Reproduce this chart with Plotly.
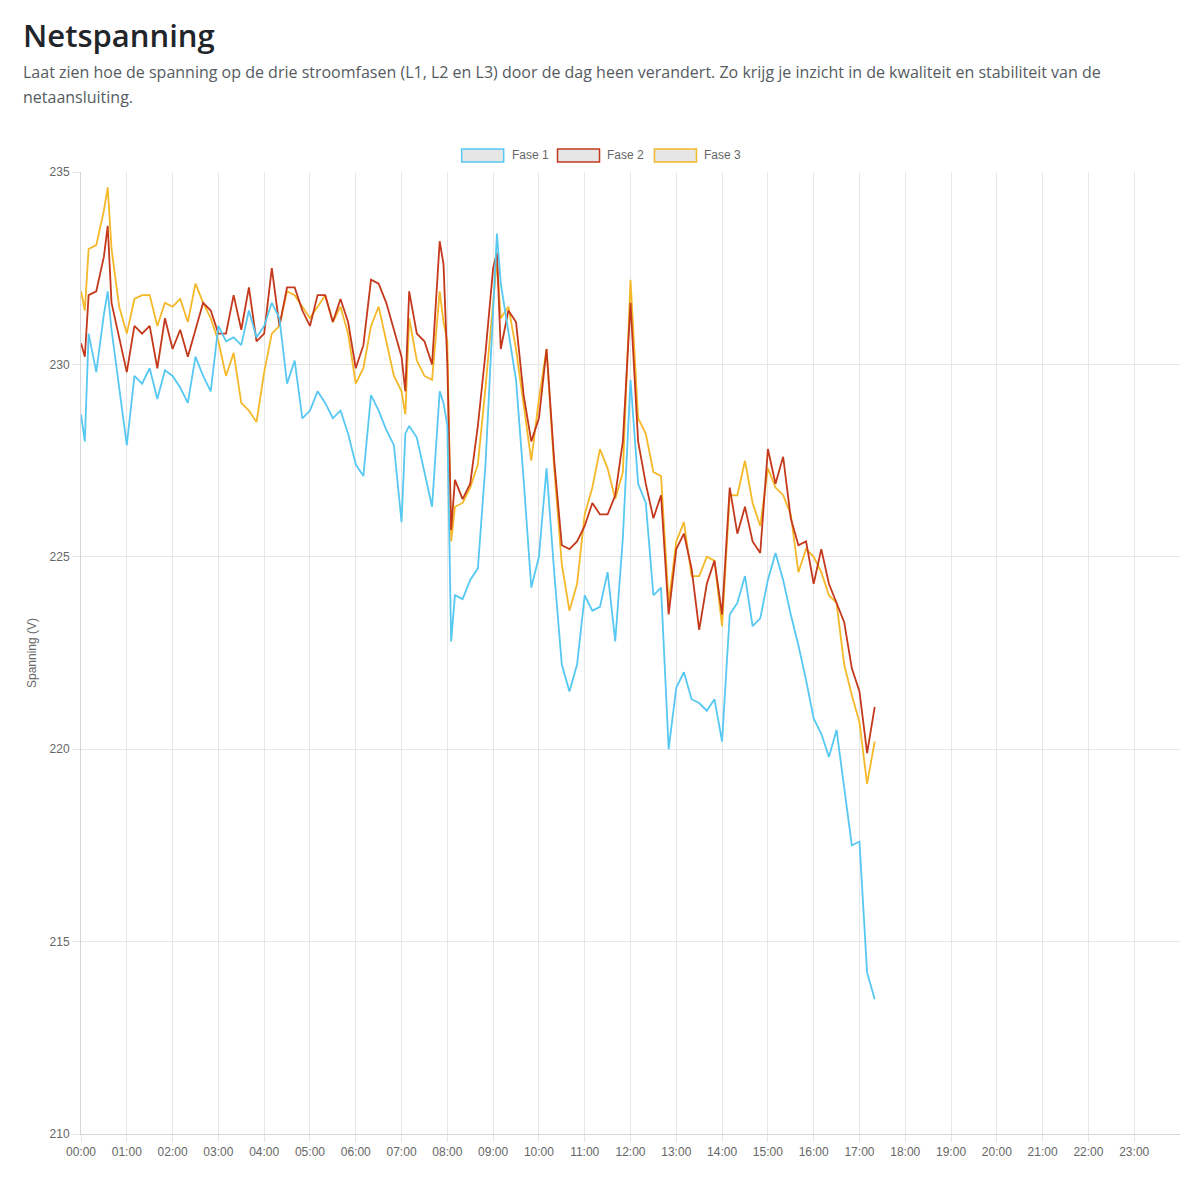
import plotly.graph_objects as go

# Meetmomenten (HH:MM) en spanning per fase in volt
times = [
    "00:00", "00:05", "00:10", "00:20", "00:30", "00:35", "00:40", "00:50",
    "01:00", "01:10", "01:20", "01:30", "01:40", "01:50",
    "02:00", "02:10", "02:20", "02:30", "02:40", "02:50",
    "03:00", "03:10", "03:20", "03:30", "03:40", "03:50",
    "04:00", "04:10", "04:20", "04:30", "04:40", "04:50",
    "05:00", "05:10", "05:20", "05:30", "05:40", "05:50",
    "06:00", "06:10", "06:20", "06:30", "06:40", "06:50",
    "07:00", "07:05", "07:10", "07:20", "07:30", "07:40", "07:50", "07:55",
    "08:00", "08:05", "08:10", "08:20", "08:30", "08:40", "08:50",
    "09:00", "09:05", "09:10", "09:20", "09:30", "09:40", "09:50",
    "10:00", "10:10", "10:20", "10:30", "10:40", "10:50",
    "11:00", "11:10", "11:20", "11:30", "11:40", "11:50",
    "12:00", "12:10", "12:20", "12:30", "12:40", "12:50",
    "13:00", "13:10", "13:20", "13:30", "13:40", "13:50",
    "14:00", "14:10", "14:20", "14:30", "14:40", "14:50",
    "15:00", "15:10", "15:20", "15:30", "15:40", "15:50",
    "16:00", "16:10", "16:20", "16:30", "16:40", "16:50",
    "17:00", "17:10", "17:20",
]

fase1 = [
    228.7, 228.0, 230.8, 229.8, 231.3, 231.9, 230.9, 229.4,
    227.9, 229.7, 229.5, 229.9, 229.1, 229.85,
    229.7, 229.4, 229.0, 230.2, 229.7, 229.3,
    231.0, 230.6, 230.7, 230.5, 231.4, 230.7,
    231.0, 231.6, 231.2, 229.5, 230.1, 228.6,
    228.8, 229.3, 229.0, 228.6, 228.8, 228.2,
    227.4, 227.1, 229.2, 228.8, 228.3, 227.9,
    225.9, 228.2, 228.4, 228.1, 227.2, 226.3, 229.3, 229.0,
    228.4, 222.8, 224.0, 223.9, 224.4, 224.7, 227.4,
    231.5, 233.4, 232.1, 230.8, 229.6, 227.0, 224.2,
    225.0, 227.3, 224.6, 222.2, 221.5, 222.2,
    224.0, 223.6, 223.7, 224.6, 222.8, 225.5,
    229.6, 226.9, 226.4, 224.0, 224.2, 220.0,
    221.6, 222.0, 221.3, 221.2, 221.0, 221.3,
    220.2, 223.5, 223.8, 224.5, 223.2, 223.4,
    224.4, 225.1, 224.4, 223.5, 222.7, 221.8,
    220.8, 220.4, 219.8, 220.5, 219.0, 217.5,
    217.6, 214.2, 213.5,
]

fase2 = [
    230.55, 230.2, 231.8, 231.9, 232.8, 233.6, 231.6, 230.7,
    229.8, 231.0, 230.8, 231.0, 229.9, 231.2,
    230.4, 230.9, 230.2, 230.9, 231.6, 231.4,
    230.8, 230.8, 231.8, 230.9, 232.0, 230.6,
    230.8, 232.5, 231.0, 232.0, 232.0, 231.4,
    231.0, 231.8, 231.8, 231.1, 231.7, 231.1,
    229.9, 230.5, 232.2, 232.1, 231.6, 230.9,
    230.2, 229.3, 231.9, 230.8, 230.6, 230.0, 233.2, 232.6,
    230.0, 225.7, 227.0, 226.5, 226.9, 228.4, 230.3,
    232.5, 232.9, 230.4, 231.4, 231.1, 229.2, 228.0,
    228.6, 230.4, 227.5, 225.3, 225.2, 225.4,
    225.8, 226.4, 226.1, 226.1, 226.6, 228.0,
    231.6, 228.0, 226.9, 226.0, 226.6, 223.5,
    225.2, 225.6, 224.7, 223.1, 224.3, 224.9,
    223.5, 226.8, 225.6, 226.3, 225.4, 225.1,
    227.8, 226.9, 227.6, 226.0, 225.3, 225.4,
    224.3, 225.2, 224.3, 223.8, 223.3, 222.1,
    221.5, 219.9, 221.1,
]

fase3 = [
    231.9, 231.4, 233.0, 233.1, 234.0, 234.6, 233.0, 231.5,
    230.8, 231.7, 231.8, 231.8, 231.0, 231.6,
    231.5, 231.7, 231.1, 232.1, 231.6, 231.2,
    230.6, 229.7, 230.3, 229.0, 228.8, 228.5,
    229.8, 230.8, 231.0, 231.9, 231.8, 231.5,
    231.2, 231.5, 231.8, 231.1, 231.5, 230.8,
    229.5, 229.9, 231.0, 231.5, 230.6, 229.7,
    229.3, 228.7, 231.2, 230.1, 229.7, 229.6, 231.9, 231.1,
    230.6, 225.4, 226.3, 226.4, 226.8, 227.4, 229.4,
    231.6, 232.7, 231.2, 231.5, 230.4, 229.0, 227.5,
    229.1, 230.4, 227.3, 224.8, 223.6, 224.3,
    226.1, 226.8, 227.8, 227.3, 226.5, 227.2,
    232.2, 228.6, 228.2, 227.2, 227.1, 223.8,
    225.4, 225.9, 224.5, 224.5, 225.0, 224.9,
    223.2, 226.6, 226.6, 227.5, 226.4, 225.8,
    227.3, 226.8, 226.6, 226.1, 224.6, 225.2,
    225.0, 224.6, 224.0, 223.8, 222.2, 221.4,
    220.7, 219.1, 220.2,
]

hour_labels = [
    "00:00", "01:00", "02:00", "03:00", "04:00", "05:00", "06:00", "07:00",
    "08:00", "09:00", "10:00", "11:00", "12:00", "13:00", "14:00", "15:00",
    "16:00", "17:00", "18:00", "19:00", "20:00", "21:00", "22:00", "23:00",
]

assert len(times) == len(fase1) == len(fase2) == len(fase3)

day = "2024-01-01 "
series = [("Fase 1", fase1, "#56c8f2"),
          ("Fase 2", fase2, "#c4381c"),
          ("Fase 3", fase3, "#f4b828")]

x = [day + t for t in times]

fig = go.Figure()

# Chart.js tekent de eerste dataset bovenop, dus omgekeerd toevoegen
for name, vals, color in reversed(series):
    fig.add_trace(go.Scatter(
        x=x, y=vals, name=name, mode="lines",
        line=dict(color=color, width=1.8),
        showlegend=False,
    ))

# Handmatige legenda in Chart.js-stijl (grijze vakjes met gekleurde rand)
leg_x = [0.3464, 0.4336, 0.5218]
for (name, _, color), lx in zip(series, leg_x):
    fig.add_shape(type="rect", xref="paper", yref="paper",
                  x0=lx, x1=lx + 0.0382, y0=1.0104, y1=1.0239,
                  line=dict(color=color, width=1.5), fillcolor="#e6e6e6")
    fig.add_annotation(x=lx + 0.0436, y=1.0172, xref="paper", yref="paper",
                       text=name, showarrow=False, xanchor="left", yanchor="middle",
                       font=dict(family="Liberation Sans", size=12, color="#666666"))

fig.add_annotation(x=-0.0546, y=1.1424, xref="paper", yref="paper",
                   text="Netspanning", showarrow=False, xanchor="left", yanchor="middle",
                   font=dict(family="Open Sans", size=31, color="#212529", weight=600))
fig.add_annotation(x=-0.0546, y=1.104, xref="paper", yref="paper",
                   text="Laat zien hoe de spanning op de drie stroomfasen (L1, L2 en L3) door de dag heen verandert. "
                        "Zo krijg je inzicht in de kwaliteit en stabiliteit van de",
                   showarrow=False, xanchor="left", yanchor="middle",
                   font=dict(family="Open Sans", size=16, color="#555b61"))
fig.add_annotation(x=-0.0546, y=1.078, xref="paper", yref="paper",
                   text="netaansluiting.", showarrow=False, xanchor="left", yanchor="middle",
                   font=dict(family="Open Sans", size=16, color="#555b61"))

# de pagina heeft 8px body-marge, daarom iets kleiner dan 1200x1180
fig.update_layout(
    width=1184, height=1164,
    margin=dict(l=73, r=12, t=164, b=38),
    paper_bgcolor="white", plot_bgcolor="white",
    font=dict(family="Liberation Sans", size=12, color="#666666"),
)

fig.update_xaxes(
    type="date",
    range=[day + "00:00", "2024-01-02 00:00"],
    tickvals=[day + h for h in hour_labels], ticktext=hour_labels,
    showgrid=True, gridcolor="#e6e6e6", gridwidth=1,
    showline=True, linecolor="#d6d6d6",
    ticks="outside", ticklen=7, tickcolor="#e6e6e6",
    tickfont=dict(size=12, color="#666666"),
)
fig.update_yaxes(
    range=[210, 235], dtick=5,
    showgrid=True, gridcolor="#e6e6e6", gridwidth=1,
    showline=True, linecolor="#d6d6d6", zeroline=False,
    ticks="outside", ticklen=8, tickcolor="#e6e6e6",
    tickfont=dict(size=12, color="#666666"),
    title=dict(text="Spanning (V)", font=dict(size=12, color="#666666"), standoff=10),
)

fig.write_html("out.html")
